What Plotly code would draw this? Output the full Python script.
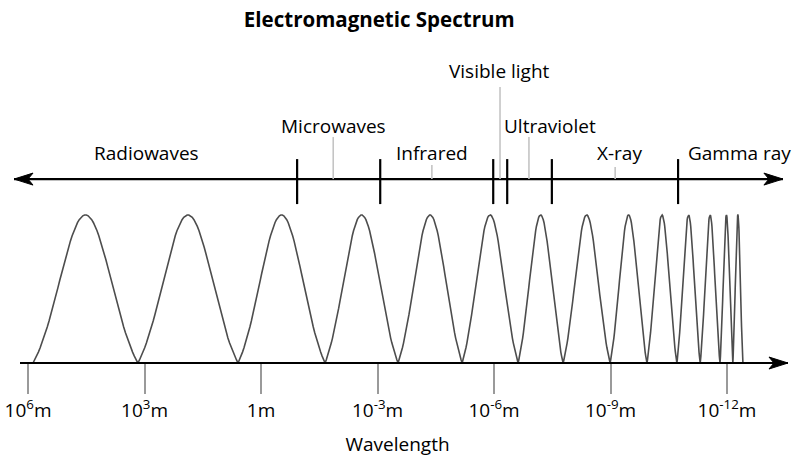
import numpy as np
import plotly.graph_objects as go

# x positions are log10(wavelength / m); the axis runs from long to short waves
wavelength_exp = [6, 3, 0, -3, -6, -9, -12]
wavelength_labels = ["10<sup>6</sup>m", "10<sup>3</sup>m", "1m", "10<sup>-3</sup>m",
                     "10<sup>-6</sup>m", "10<sup>-9</sup>m", "10<sup>-12</sup>m"]

band_names = ["Radiowaves", "Microwaves", "Infrared", "Visible light",
              "Ultraviolet", "X-ray", "Gamma ray"]
band_label_x = [2.94, -1.86, -4.40, -6.13, -7.43, -9.24, -12.31]
band_label_y = [1.42, 1.60, 1.42, 1.97, 1.60, 1.42, 1.42]

# borders between the bands
band_edges = [-0.93, -3.07, -5.98, -6.34, -7.49, -10.74]

# thin pointer lines from the spectrum arrow up to some labels
pointer_x = [-1.86, -4.40, -6.155, -6.90, -9.12]
pointer_top = [1.527, 1.338, 1.865, 1.527, 1.324]

# where the drawn wave touches the baseline
wave_troughs = [5.87, 3.17, 0.59, -1.65, -3.53, -5.18, -6.62, -7.78,
                -8.99, -9.94, -10.71, -11.31, -11.82, -12.15, -12.41]

arrow_y = 1.243
edge_low, edge_high = 1.074, 1.378
top_arrow_ends = [6.36, -13.44]
base_ends = [6.206, -13.57]

FONT = "Open Sans"

fig = go.Figure()

# wave: one bell-shaped lobe between each pair of troughs
t = np.linspace(0, 1, 60)
bell = np.exp(-((t - 0.5) / 0.25) ** 2 / 2)
bell = (bell - bell[0]) / (bell.max() - bell[0])
wx, wy = [], []
for a, b in zip(wave_troughs[:-1], wave_troughs[1:]):
    wx.extend(a + (b - a) * t)
    wy.extend(bell)
fig.add_trace(go.Scatter(x=wx, y=wy, mode="lines",
                         line=dict(color="#4d4d4d", width=1.6),
                         hoverinfo="skip", cliponaxis=False))

# baseline of the wavelength axis
fig.add_trace(go.Scatter(x=base_ends, y=[0, 0], mode="lines",
                         line=dict(color="black", width=2.2),
                         hoverinfo="skip", cliponaxis=False))

# spectrum arrow
fig.add_trace(go.Scatter(x=top_arrow_ends, y=[arrow_y, arrow_y], mode="lines",
                         line=dict(color="black", width=2.2),
                         hoverinfo="skip", cliponaxis=False))

# pointer lines
px_, py_ = [], []
for x, top in zip(pointer_x, pointer_top):
    px_ += [x, x, None]
    py_ += [arrow_y, top, None]
fig.add_trace(go.Scatter(x=px_, y=py_, mode="lines",
                         line=dict(color="#c4c4c4", width=1.6),
                         hoverinfo="skip"))

# band borders
ex, ey = [], []
for x in band_edges:
    ex += [x, x, None]
    ey += [edge_low, edge_high, None]
fig.add_trace(go.Scatter(x=ex, y=ey, mode="lines",
                         line=dict(color="black", width=2.2),
                         hoverinfo="skip"))

for name, x, y in zip(band_names, band_label_x, band_label_y):
    fig.add_annotation(x=x, y=y, text=name, showarrow=False,
                       xanchor="center", yanchor="middle",
                       font=dict(family=FONT, size=19, color="black"))

# arrowheads, sized in pixels at the arrow tips
def head(x, y, direction):
    d = direction
    path = f"M0,0 L{-19*d},6 L{-14*d},0 L{-19*d},-6 Z"
    fig.add_shape(type="path", xref="x", yref="y", xsizemode="pixel",
                  ysizemode="pixel", xanchor=x, yanchor=y, path=path,
                  fillcolor="black", line=dict(color="black", width=1),
                  layer="above")

head(base_ends[1], 0, 1)
head(top_arrow_ends[1], arrow_y, 1)
head(top_arrow_ends[0], arrow_y, -1)

fig.update_layout(
    width=795, height=457,
    margin=dict(l=0, r=0, t=0, b=0, autoexpand=False),
    paper_bgcolor="white", plot_bgcolor="white",
    showlegend=False,
    title=dict(text="<b>Electromagnetic Spectrum</b>", x=0.477, xanchor="center",
               y=0.956, yanchor="middle",
               font=dict(family=FONT, size=20.5, color="black")),
    xaxis=dict(range=[6.721, -13.751], showgrid=False, zeroline=False,
               showline=False, anchor="free", position=0.2057, automargin=False,
               tickvals=wavelength_exp, ticktext=wavelength_labels,
               ticks="outside", ticklen=30, tickwidth=2, tickcolor="#9a9a9a",
               tickfont=dict(family=FONT, size=19, color="black"),
               title=dict(text="Wavelength", standoff=15,
                          font=dict(family=FONT, size=19, color="black"))),
    yaxis=dict(range=[-0.635, 2.453], visible=False, automargin=False),
)

# drop the page's default body margin so the figure fills the window
fig.write_html("out.html", config={"displayModeBar": False},
               post_script="document.body.style.margin='0';")
